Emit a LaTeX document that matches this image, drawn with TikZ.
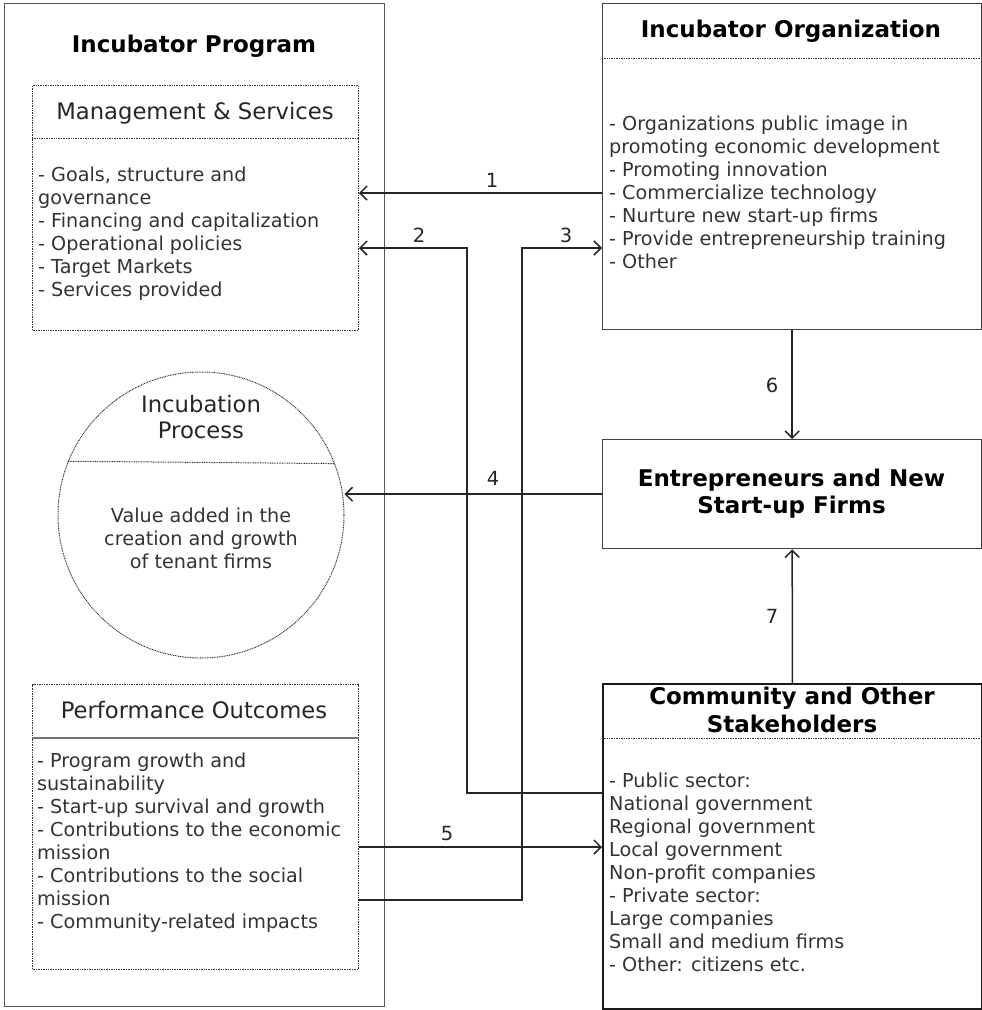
\documentclass[tikz,border=0pt]{standalone}
\usepackage{fontspec}
\setmainfont{DejaVu Sans}
\usetikzlibrary{arrows.meta}
\begin{document}
\begin{tikzpicture}[x=1pt,y=-1pt,
  frame/.style={draw=black!65, line width=1.4pt, inner sep=0pt},
  dotline/.style={draw=black!80, line width=1pt, dash pattern=on 0.9pt off 0.8pt},
  dotbox/.style={dotline, inner sep=0pt},
  body/.style={font=\fontsize{19.2}{23}\selectfont, text=black!80, align=left, inner sep=0pt, anchor=north west},
  bodyc/.style={body, align=center, anchor=north},
  head/.style={font=\fontsize{22.7}{26}\selectfont, text=black!85, inner sep=0pt, anchor=base},
  headc/.style={head, align=center, anchor=north},
  titl/.style={font=\fontsize{23}{28}\selectfont\bfseries, text=black, inner sep=0pt, anchor=base},
  titlc/.style={titl, align=center, anchor=north},
  num/.style={font=\fontsize{19.5}{22}\selectfont, text=black!85, inner sep=0pt, anchor=base},
  link/.style={draw=black!85, line width=1.5pt},
  arr/.style={link, -{Straight Barb[length=7pt,width=14pt]}}
]
\useasboundingbox (0,0) rectangle (982,1010);

% ---- Incubator program (left column) ----
\node[frame, minimum width=380pt, minimum height=1003pt, anchor=north west] (prog) at (4,3) {};
\node[titl] (progT) at (194,52) {Incubator Program};

\node[dotbox, minimum width=326pt, minimum height=245pt, anchor=north west] (mgmt) at (32,85) {};
\draw[dotline] (mgmt.west |- 0,138) -- (mgmt.east |- 0,138);
\node[head] (mgmtT) at (195,119) {Management \& Services};
\node[body] (mgmtB) at (38,165.6) {\strut- Goals, structure and\\governance\\- Financing and capitalization\\- Operational policies\\- Target Markets\\- Services provided};

\node[dotbox, circle, minimum size=286pt] (proc) at (201,515) {};
\draw[dotline] (proc.158.25) -- (proc.21.75);
\node[headc] (procT) at (201,393.8) {\strut Incubation\\Process};
\node[bodyc] (procB) at (201,505.9) {\strut Value added in the\\creation and growth\\of tenant firms};

\node[dotbox, minimum width=326pt, minimum height=285pt, anchor=north west] (perf) at (32,684) {};
\draw[draw=black!55, line width=1.6pt] (perf.west |- 0,738) -- (perf.east |- 0,738);
\node[head] (perfT) at (194,718) {Performance Outcomes};
\node[body] (perfB) at (37,751) {\strut- Program growth and\\sustainability\\- Start-up survival and growth\\- Contributions to the economic\\mission\\- Contributions to the social\\mission\\- Community-related impacts};

% ---- Actors (right column) ----
\node[frame, draw=black!75, minimum width=379pt, minimum height=326pt, anchor=north west] (org) at (602,3) {};
\draw[dotline] (org.west |- 0,58) -- (org.east |- 0,58);
\node[titl] (orgT) at (791,37) {Incubator Organization};
\node[body] (orgB) at (609,114.4) {\strut- Organizations public image in\\promoting economic development\\- Promoting innovation\\- Commercialize technology\\- Nurture new start-up firms\\- Provide entrepreneurship training\\- Other};

\node[frame, draw=black!75, minimum width=379pt, minimum height=109pt, anchor=north west] (ent) at (602,439) {};
\node[font=\fontsize{23}{27}\selectfont\bfseries, align=center, inner sep=0pt, anchor=north] (entT) at (791.5,467.1) {\strut Entrepreneurs and New\\Start-up Firms};

\node[frame, draw=black!90, line width=1.7pt, minimum width=379pt, minimum height=325pt, anchor=north west] (comm) at (602,683) {};
\draw[dotline] (comm.west |- 0,738) -- (comm.east |- 0,738);
\node[titlc] (commT) at (792,684.4) {\strut Community and Other\\Stakeholders};
\node[body] (commB) at (609,771) {\strut- Public sector:\\National government\\Regional government\\Local government\\Non-profit companies\\- Private sector:\\Large companies\\Small and medium firms\\- Other: citizens etc.};

% ---- Relations ----
\draw[arr] (org.west |- 0,193) -- (mgmt.east |- 0,193);
\draw[arr] (comm.west |- 0,793) -| (467,248) -- (mgmt.east |- 0,248);
\draw[arr] (perf.east |- 0,900) -| (522,248) -- (org.west |- 0,248);
\draw[arr] (ent.west) -- (proc.east |- ent.west);
\draw[arr] (perf.east |- 0,847) -- (comm.west |- 0,847);
\draw[arr] (org.south) -- (ent.north);
\draw[arr] (comm.north) -- (ent.south);

\node[num] (n1) at (492,187) {1};
\node[num] (n2) at (419,242) {2};
\node[num] (n3) at (566,242) {3};
\node[num] (n4) at (493,485) {4};
\node[num] (n5) at (447,840) {5};
\node[num] (n6) at (772,392) {6};
\node[num] (n7) at (772,623) {7};
\end{tikzpicture}
\end{document}
